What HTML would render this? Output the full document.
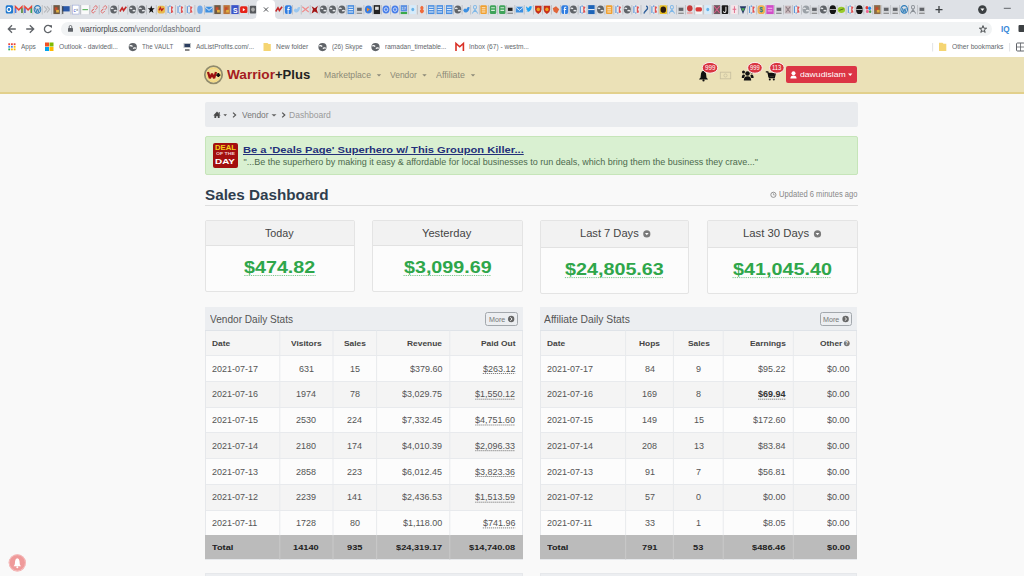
<!DOCTYPE html><html><head><meta charset="utf-8"><style>
html,body{margin:0;padding:0;width:1024px;height:576px;overflow:hidden;background:#f9f9f9;font-family:"Liberation Sans",sans-serif;}
.a{position:absolute;box-sizing:border-box;}
.t{position:absolute;white-space:nowrap;line-height:1;}
svg.a{overflow:visible}
</style></head><body>
<div class="a" style="left:0px;top:0px;width:1024px;height:19px;background:#dee1e6"></div>
<svg class="a" style="left:0;top:0" width="1024" height="19" viewBox="0 0 1024 19"><g transform="translate(9.40,9.6) scale(0.92,1.05) translate(-4,-4.25)"><rect x="0" y="0" width="8" height="8" rx="1.5" fill="#1e78d0"/><circle cx="3.5" cy="4.2" r="2" fill="none" stroke="#fff" stroke-width="1.2"/></g><rect x="13.67" y="5" width="0.8" height="9.5" fill="#b9bcc1"/><g transform="translate(18.75,9.6) scale(0.92,1.05) translate(-4,-4.25)"><path d="M0.5 7.5V1.5L4 4.5L7.5 1.5V7.5" fill="none" stroke="#ea4335" stroke-width="1.5"/><path d="M0.5 7.5V3" stroke="#4285f4" stroke-width="1.5"/><path d="M7.5 7.5V3" stroke="#34a853" stroke-width="1.5"/></g><rect x="23.03" y="5" width="0.8" height="9.5" fill="#b9bcc1"/><g transform="translate(28.10,9.6) scale(0.92,1.05) translate(-4,-4.25)"><path d="M0.5 7.5V1.5L4 4.5L7.5 1.5V7.5" fill="none" stroke="#ea4335" stroke-width="1.5"/><path d="M0.5 7.5V3" stroke="#4285f4" stroke-width="1.5"/><path d="M7.5 7.5V3" stroke="#34a853" stroke-width="1.5"/></g><rect x="32.40" y="5" width="0.8" height="9.5" fill="#b9bcc1"/><g transform="translate(37.50,9.6) scale(0.92,1.05) translate(-4,-4.25)"><circle cx="4" cy="4" r="3.6" fill="none" stroke="#2b7bb9" stroke-width="1.1"/><path d="M1.8 2.5L3 6.5L4 3.5L5 6.5L6.2 2.5" fill="none" stroke="#2b7bb9" stroke-width="0.9"/></g><rect x="41.80" y="5" width="0.8" height="9.5" fill="#b9bcc1"/><g transform="translate(46.90,9.6) scale(0.92,1.05) translate(-4,-4.25)"><path d="M1 1L4 4L1 7M4 1L7 4L4 7" fill="none" stroke="#b9bbbe" stroke-width="1.2"/></g><rect x="51.35" y="5" width="0.8" height="9.5" fill="#b9bcc1"/><g transform="translate(56.60,9.6) scale(0.92,1.05) translate(-4,-4.25)"><rect x="0.5" y="0" width="7" height="8.5" fill="#6d5a45"/><rect x="2" y="2" width="3" height="3" fill="#c84a2a"/><rect x="3.5" y="4.5" width="3" height="2.5" fill="#e0b040"/></g><rect x="60.90" y="5" width="0.8" height="9.5" fill="#b9bcc1"/><g transform="translate(66.00,9.6) scale(0.92,1.05) translate(-4,-4.25)"><rect x="0" y="1" width="8" height="5" fill="#2a58a8"/><rect x="0" y="1" width="1" height="7.5" fill="#333"/></g><rect x="70.50" y="5" width="0.8" height="9.5" fill="#b9bcc1"/><g transform="translate(75.80,9.6) scale(0.92,1.05) translate(-4,-4.25)"><rect x="0.5" y="0" width="7" height="8.5" fill="#fff" stroke="#9aa8d8" stroke-width="0.6"/><text x="1.5" y="6.5" font-size="5" fill="#3346c9" font-family="Liberation Sans">c</text><rect x="4.5" y="3.5" width="2" height="2" fill="#bbb"/></g><rect x="80.10" y="5" width="0.8" height="9.5" fill="#b9bcc1"/><g transform="translate(85.20,9.6) scale(0.92,1.05) translate(-4,-4.25)"><rect x="0" y="0" width="8" height="8.5" fill="#fafafa"/><rect x="1" y="3.8" width="6" height="1" fill="#4caf50"/></g><rect x="89.45" y="5" width="0.8" height="9.5" fill="#b9bcc1"/><g transform="translate(94.50,9.6) scale(0.92,1.05) translate(-4,-4.25)"><path d="M1.5 5.5L3.5 3.5M3 2.5l1.5-1.5a1.4 1.4 0 0 1 2 2L5 4.5M5 5.5L3.5 7a1.4 1.4 0 0 1-2-2L3 3.5" fill="none" stroke="#e06666" stroke-width="0.9"/></g><rect x="98.80" y="5" width="0.8" height="9.5" fill="#b9bcc1"/><g transform="translate(103.90,9.6) scale(0.92,1.05) translate(-4,-4.25)"><path d="M1.5 5.5L3.5 3.5M3 2.5l1.5-1.5a1.4 1.4 0 0 1 2 2L5 4.5M5 5.5L3.5 7a1.4 1.4 0 0 1-2-2L3 3.5" fill="none" stroke="#e06666" stroke-width="0.9"/></g><rect x="108.42" y="5" width="0.8" height="9.5" fill="#b9bcc1"/><g transform="translate(113.75,9.6) scale(0.92,1.05) translate(-4,-4.25)"><circle cx="4" cy="4.2" r="3.8" fill="#5f6368"/><path d="M1 3.3Q2.5 2.3 3.6 3.6M4.2 5.6Q5.6 4.6 7.2 5.6" fill="none" stroke="#e8eaed" stroke-width="1.2"/></g><rect x="118.02" y="5" width="0.8" height="9.5" fill="#b9bcc1"/><g transform="translate(123.10,9.6) scale(0.92,1.05) translate(-4,-4.25)"><path d="M0.5 6L3 2.5L4.5 5L7.5 1.5" fill="none" stroke="#c62828" stroke-width="1.7"/></g><rect x="127.40" y="5" width="0.8" height="9.5" fill="#b9bcc1"/><g transform="translate(132.50,9.6) scale(0.92,1.05) translate(-4,-4.25)"><circle cx="4" cy="4.2" r="3.8" fill="#5f6368"/><path d="M1 3.3Q2.5 2.3 3.6 3.6M4.2 5.6Q5.6 4.6 7.2 5.6" fill="none" stroke="#e8eaed" stroke-width="1.2"/></g><rect x="136.80" y="5" width="0.8" height="9.5" fill="#b9bcc1"/><g transform="translate(141.90,9.6) scale(0.92,1.05) translate(-4,-4.25)"><circle cx="4" cy="4.2" r="3.8" fill="#5f6368"/><path d="M1 3.3Q2.5 2.3 3.6 3.6M4.2 5.6Q5.6 4.6 7.2 5.6" fill="none" stroke="#e8eaed" stroke-width="1.2"/></g><rect x="146.17" y="5" width="0.8" height="9.5" fill="#b9bcc1"/><g transform="translate(151.25,9.6) scale(0.92,1.05) translate(-4,-4.25)"><path d="M4 0.3L5 3H7.8L5.5 4.7L6.4 7.6L4 5.9L1.6 7.6L2.5 4.7L0.2 3H3Z" fill="#111"/></g><rect x="155.85" y="5" width="0.8" height="9.5" fill="#b9bcc1"/><g transform="translate(161.25,9.6) scale(0.92,1.05) translate(-4,-4.25)"><rect x="0" y="0.5" width="8" height="7.5" rx="2" fill="#e9b84a"/><path d="M1.5 5L3 2.5L4.5 5L6.5 3" stroke="#b71c1c" stroke-width="1.4" fill="none"/></g><rect x="165.53" y="5" width="0.8" height="9.5" fill="#b9bcc1"/><g transform="translate(170.60,9.6) scale(0.92,1.05) translate(-4,-4.25)"><rect x="0.5" y="0" width="7" height="8.5" fill="#e6e8ec"/><path d="M1.3 1V7.5M2.5 1H4M2.5 7.5H4" stroke="#4f8fd8" stroke-width="1.1"/><path d="M5 1V7.5M6.5 1.5L5 4L6.5 7" stroke="#e05252" stroke-width="1.1" fill="none"/></g><rect x="175.15" y="5" width="0.8" height="9.5" fill="#b9bcc1"/><g transform="translate(180.50,9.6) scale(0.92,1.05) translate(-4,-4.25)"><rect x="0.5" y="0" width="7" height="8.5" fill="#e6e8ec"/><path d="M1.3 1V7.5M2.5 1H4M2.5 7.5H4" stroke="#4f8fd8" stroke-width="1.1"/><path d="M5 1V7.5M6.5 1.5L5 4L6.5 7" stroke="#e05252" stroke-width="1.1" fill="none"/></g><rect x="184.75" y="5" width="0.8" height="9.5" fill="#b9bcc1"/><g transform="translate(189.80,9.6) scale(0.92,1.05) translate(-4,-4.25)"><rect x="0.5" y="0" width="7" height="8.5" fill="#e6e8ec"/><path d="M1.3 1V7.5M2.5 1H4M2.5 7.5H4" stroke="#4f8fd8" stroke-width="1.1"/><path d="M5 1V7.5M6.5 1.5L5 4L6.5 7" stroke="#e05252" stroke-width="1.1" fill="none"/></g><rect x="194.50" y="5" width="0.8" height="9.5" fill="#b9bcc1"/><g transform="translate(200.00,9.6) scale(0.92,1.05) translate(-4,-4.25)"><ellipse cx="4" cy="4.3" rx="3" ry="4" fill="#6fa8e8"/></g><rect x="204.10" y="5" width="0.8" height="9.5" fill="#b9bcc1"/><g transform="translate(209.00,9.6) scale(0.92,1.05) translate(-4,-4.25)"><rect x="0" y="1.5" width="8" height="5.5" fill="#3d8fe0"/><path d="M0 2L4 5L8 2" stroke="#fff" stroke-width="0.8" fill="none"/></g><rect x="212.85" y="5" width="0.8" height="9.5" fill="#b9bcc1"/><g transform="translate(217.50,9.6) scale(0.92,1.05) translate(-4,-4.25)"><rect x="0.5" y="0" width="7" height="8.5" fill="#6d5a45"/><rect x="2" y="2" width="3" height="3" fill="#c84a2a"/><rect x="3.5" y="4.5" width="3" height="2.5" fill="#e0b040"/></g><rect x="221.65" y="5" width="0.8" height="9.5" fill="#b9bcc1"/><g transform="translate(226.60,9.6) scale(0.92,1.05) translate(-4,-4.25)"><rect x="0.5" y="0" width="7" height="8.5" fill="#b9733a"/><rect x="2" y="2" width="3" height="3" fill="#c84a2a"/><rect x="3.5" y="4.5" width="3" height="2.5" fill="#e0b040"/></g><rect x="230.40" y="5" width="0.8" height="9.5" fill="#b9bcc1"/><g transform="translate(235.00,9.6) scale(0.92,1.05) translate(-4,-4.25)"><rect x="0" y="0" width="8" height="8.5" fill="#3b55c8"/><text x="1.7" y="7" font-size="7.5" font-weight="bold" fill="#fff" font-family="Liberation Sans">S</text></g><rect x="238.97" y="5" width="0.8" height="9.5" fill="#b9bcc1"/><g transform="translate(243.75,9.6) scale(0.92,1.05) translate(-4,-4.25)"><rect x="0" y="1" width="8" height="6.5" rx="1.5" fill="#e62117"/><path d="M3 2.8V5.8L5.6 4.3Z" fill="#fff"/></g><rect x="247.97" y="5" width="0.8" height="9.5" fill="#b9bcc1"/><g transform="translate(253.00,9.6) scale(0.92,1.05) translate(-4,-4.25)"><rect x="0.5" y="0.5" width="7" height="7.5" rx="1" fill="#55585c"/><circle cx="4" cy="4.2" r="2" fill="#aaa"/></g><g transform="translate(278.90,9.6) scale(0.92,1.05) translate(-4,-4.25)"><path d="M0.5 6L3 2.5L4.5 5L7.5 1.5" fill="none" stroke="#c62828" stroke-width="1.7"/></g><rect x="283.20" y="5" width="0.8" height="9.5" fill="#b9bcc1"/><g transform="translate(288.30,9.6) scale(0.92,1.05) translate(-4,-4.25)"><rect x="0.3" y="0" width="7.4" height="8.5" rx="2" fill="#2f7de1"/><path d="M5.6 2H4.5Q3.8 2 3.8 2.8V8.5M2.8 4.2H5.5" stroke="#fff" stroke-width="1" fill="none"/></g><rect x="292.20" y="5" width="0.8" height="9.5" fill="#b9bcc1"/><g transform="translate(296.90,9.6) scale(0.92,1.05) translate(-4,-4.25)"><path d="M0.5 5Q2 2 4 4Q5 1 7.5 2Q7 6 4 7Q2 7.5 0.5 5Z" fill="#9cc8ef"/></g><rect x="300.80" y="5" width="0.8" height="9.5" fill="#b9bcc1"/><g transform="translate(305.50,9.6) scale(0.92,1.05) translate(-4,-4.25)"><path d="M0.5 1.5L7.5 6.5M0.5 6.5L7.5 1.5" stroke="#ef8a8a" stroke-width="1.2"/></g><rect x="309.75" y="5" width="0.8" height="9.5" fill="#b9bcc1"/><g transform="translate(314.80,9.6) scale(0.92,1.05) translate(-4,-4.25)"><path d="M0.5 1L4 3L7.5 0.5L6 4L7.5 8L4 6L0.5 8L2 4Z" fill="#a31515"/></g><rect x="318.70" y="5" width="0.8" height="9.5" fill="#b9bcc1"/><g transform="translate(323.40,9.6) scale(0.92,1.05) translate(-4,-4.25)"><circle cx="4" cy="4.2" r="3.8" fill="#5f6368"/><path d="M1 3.3Q2.5 2.3 3.6 3.6M4.2 5.6Q5.6 4.6 7.2 5.6" fill="none" stroke="#e8eaed" stroke-width="1.2"/></g><rect x="327.55" y="5" width="0.8" height="9.5" fill="#b9bcc1"/><g transform="translate(332.50,9.6) scale(0.92,1.05) translate(-4,-4.25)"><circle cx="4" cy="4.2" r="3.8" fill="#5f6368"/><path d="M1 3.3Q2.5 2.3 3.6 3.6M4.2 5.6Q5.6 4.6 7.2 5.6" fill="none" stroke="#e8eaed" stroke-width="1.2"/></g><rect x="336.80" y="5" width="0.8" height="9.5" fill="#b9bcc1"/><g transform="translate(341.90,9.6) scale(0.92,1.05) translate(-4,-4.25)"><circle cx="4" cy="4.2" r="3.8" fill="#5f6368"/><path d="M1 3.3Q2.5 2.3 3.6 3.6M4.2 5.6Q5.6 4.6 7.2 5.6" fill="none" stroke="#e8eaed" stroke-width="1.2"/></g><rect x="345.95" y="5" width="0.8" height="9.5" fill="#b9bcc1"/><g transform="translate(350.80,9.6) scale(0.92,1.05) translate(-4,-4.25)"><rect x="0.5" y="0" width="7" height="8.5" fill="#4a8ee0"/><path d="M1.5 2H6.5M1.5 4.2H6.5M1.5 6.5H6.5" stroke="#fff" stroke-width="0.9"/></g><rect x="354.70" y="5" width="0.8" height="9.5" fill="#b9bcc1"/><g transform="translate(359.40,9.6) scale(0.92,1.05) translate(-4,-4.25)"><rect x="0.5" y="1.5" width="7" height="5" fill="#d0d2d5"/><rect x="1.5" y="2.5" width="5" height="3" fill="#606368"/><rect x="1" y="7.2" width="6" height="1" fill="#777"/></g><rect x="363.50" y="5" width="0.8" height="9.5" fill="#b9bcc1"/><g transform="translate(368.40,9.6) scale(0.92,1.05) translate(-4,-4.25)"><circle cx="4" cy="4.2" r="3.8" fill="#3a7de0"/><path d="M2.5 2.5L5.5 4.2L2.5 6Z" fill="#f58a1f"/></g><rect x="372.25" y="5" width="0.8" height="9.5" fill="#b9bcc1"/><g transform="translate(376.90,9.6) scale(0.92,1.05) translate(-4,-4.25)"><rect x="0.5" y="0" width="7" height="8.5" fill="#222"/><rect x="2" y="1.5" width="4" height="3" fill="#ddd"/></g><rect x="381.05" y="5" width="0.8" height="9.5" fill="#b9bcc1"/><g transform="translate(386.00,9.6) scale(0.92,1.05) translate(-4,-4.25)"><circle cx="4" cy="4.2" r="3.8" fill="#4a7fe8"/><circle cx="4" cy="4.2" r="1.8" fill="none" stroke="#cfe0ff" stroke-width="0.9"/></g><rect x="390.10" y="5" width="0.8" height="9.5" fill="#b9bcc1"/><g transform="translate(395.00,9.6) scale(0.92,1.05) translate(-4,-4.25)"><circle cx="4" cy="4.2" r="3.8" fill="#4a7fe8"/><circle cx="4" cy="4.2" r="1.8" fill="none" stroke="#cfe0ff" stroke-width="0.9"/></g><rect x="399.05" y="5" width="0.8" height="9.5" fill="#b9bcc1"/><g transform="translate(403.90,9.6) scale(0.92,1.05) translate(-4,-4.25)"><rect x="0.5" y="0" width="7" height="6" fill="#5b8fe0"/><rect x="0.5" y="6.5" width="7" height="2" fill="#3aa94a"/><text x="1.5" y="5" font-size="4" fill="#fff" font-family="Liberation Sans">17</text></g><rect x="407.95" y="5" width="0.8" height="9.5" fill="#b9bcc1"/><g transform="translate(412.80,9.6) scale(0.92,1.05) translate(-4,-4.25)"><rect x="0.5" y="0" width="7" height="8.5" fill="#d6ebfa"/><circle cx="4" cy="4.2" r="1.6" fill="#6bb3e8"/></g><rect x="416.95" y="5" width="0.8" height="9.5" fill="#b9bcc1"/><g transform="translate(421.90,9.6) scale(0.92,1.05) translate(-4,-4.25)"><path d="M4 0.5Q7 2 5 4Q8 6 4 8Q0 6 3 4Q1 2 4 0.5Z" fill="#f06a3a"/></g><rect x="426.18" y="5" width="0.8" height="9.5" fill="#b9bcc1"/><g transform="translate(431.25,9.6) scale(0.92,1.05) translate(-4,-4.25)"><rect x="0.5" y="0" width="7" height="8.5" fill="#4a8ee0"/><path d="M1.5 2H6.5M1.5 4.2H6.5M1.5 6.5H6.5" stroke="#fff" stroke-width="0.9"/></g><rect x="435.12" y="5" width="0.8" height="9.5" fill="#b9bcc1"/><g transform="translate(439.80,9.6) scale(0.92,1.05) translate(-4,-4.25)"><rect x="0.5" y="0" width="7" height="8.5" fill="#4a8ee0"/><path d="M1.5 2H6.5M1.5 4.2H6.5M1.5 6.5H6.5" stroke="#fff" stroke-width="0.9"/></g><rect x="444.10" y="5" width="0.8" height="9.5" fill="#b9bcc1"/><g transform="translate(449.20,9.6) scale(0.92,1.05) translate(-4,-4.25)"><rect x="0.5" y="0" width="7" height="8.5" fill="#4a8ee0"/><path d="M1.5 2H6.5M1.5 4.2H6.5M1.5 6.5H6.5" stroke="#fff" stroke-width="0.9"/></g><rect x="453.10" y="5" width="0.8" height="9.5" fill="#b9bcc1"/><g transform="translate(457.80,9.6) scale(0.92,1.05) translate(-4,-4.25)"><circle cx="4" cy="4.2" r="3.8" fill="#5f6368"/><path d="M1 3.3Q2.5 2.3 3.6 3.6M4.2 5.6Q5.6 4.6 7.2 5.6" fill="none" stroke="#e8eaed" stroke-width="1.2"/></g><rect x="461.70" y="5" width="0.8" height="9.5" fill="#b9bcc1"/><g transform="translate(466.40,9.6) scale(0.92,1.05) translate(-4,-4.25)"><path d="M0.5 5Q2 2 4 4Q5 1 7.5 2Q7 6 4 7Q2 7.5 0.5 5Z" fill="#3d8fe0"/></g><rect x="470.30" y="5" width="0.8" height="9.5" fill="#b9bcc1"/><g transform="translate(475.00,9.6) scale(0.92,1.05) translate(-4,-4.25)"><circle cx="4" cy="2" r="1.7" fill="none" stroke="#7fb8e8" stroke-width="1"/><path d="M1 8L4 4L7 8M2 6H6" stroke="#7fb8e8" stroke-width="1" fill="none"/></g><rect x="478.90" y="5" width="0.8" height="9.5" fill="#b9bcc1"/><g transform="translate(483.60,9.6) scale(0.92,1.05) translate(-4,-4.25)"><rect x="0.5" y="0" width="7" height="8.5" rx="1" fill="#f0a030"/><path d="M2 2.5H6M2 4.5H6M2 6.5H6" stroke="#fff" stroke-width="0.8"/></g><rect x="487.90" y="5" width="0.8" height="9.5" fill="#b9bcc1"/><g transform="translate(493.00,9.6) scale(0.92,1.05) translate(-4,-4.25)"><rect x="0.5" y="0" width="7" height="8.5" rx="1.5" fill="#3fa35a"/><path d="M2 2.5H6M2 5H6" stroke="#d8f0dc" stroke-width="1"/></g><rect x="497.25" y="5" width="0.8" height="9.5" fill="#b9bcc1"/><g transform="translate(502.30,9.6) scale(0.92,1.05) translate(-4,-4.25)"><rect x="0.5" y="0" width="7" height="8.5" rx="1.5" fill="#3fa35a"/><path d="M2 2.5H6M2 5H6" stroke="#d8f0dc" stroke-width="1"/></g><rect x="505.85" y="5" width="0.8" height="9.5" fill="#b9bcc1"/><g transform="translate(510.20,9.6) scale(0.92,1.05) translate(-4,-4.25)"><rect x="0.5" y="1.5" width="7" height="5" fill="#d0d2d5"/><rect x="1.5" y="2.5" width="5" height="3" fill="#222"/><rect x="1" y="7.2" width="6" height="1" fill="#777"/></g><rect x="514.45" y="5" width="0.8" height="9.5" fill="#b9bcc1"/><g transform="translate(519.50,9.6) scale(0.92,1.05) translate(-4,-4.25)"><rect x="0" y="1.5" width="8" height="5.5" fill="#3d8fe0"/><path d="M0 2L4 5L8 2" stroke="#fff" stroke-width="0.8" fill="none"/></g><rect x="523.80" y="5" width="0.8" height="9.5" fill="#b9bcc1"/><g transform="translate(528.90,9.6) scale(0.92,1.05) translate(-4,-4.25)"><path d="M0.5 6Q3 7 5 5.5Q7 4 7 2L8 1Q6.5 1.5 6 1Q4.5 0.5 4 2.5Q2 2.5 1 1Q0.5 3 2 4Q1 4 1 4Q2 5.5 3 5.5Q2 6.5 0.5 6Z" fill="#1da1f2"/></g><rect x="533.20" y="5" width="0.8" height="9.5" fill="#b9bcc1"/><g transform="translate(538.30,9.6) scale(0.92,1.05) translate(-4,-4.25)"><path d="M0.5 0.5H7.5V4.5Q7.5 7 4 8.5Q0.5 7 0.5 4.5Z" fill="#c62f1a"/><circle cx="4" cy="4" r="1.8" fill="#f0a020"/></g><rect x="542.20" y="5" width="0.8" height="9.5" fill="#b9bcc1"/><g transform="translate(546.90,9.6) scale(0.92,1.05) translate(-4,-4.25)"><path d="M0.5 0.5H7.5V4.5Q7.5 7 4 8.5Q0.5 7 0.5 4.5Z" fill="#c62f1a"/><circle cx="4" cy="4" r="1.8" fill="#f0a020"/></g><rect x="551.05" y="5" width="0.8" height="9.5" fill="#b9bcc1"/><g transform="translate(556.00,9.6) scale(0.92,1.05) translate(-4,-4.25)"><path d="M0.5 3L4 1L7.5 4L5 8L1.5 6Z" fill="#e0653a"/></g><rect x="560.00" y="5" width="0.8" height="9.5" fill="#b9bcc1"/><g transform="translate(564.80,9.6) scale(0.92,1.05) translate(-4,-4.25)"><rect x="0.3" y="0" width="7.4" height="8.5" rx="2" fill="#2f7de1"/><path d="M5.6 2H4.5Q3.8 2 3.8 2.8V8.5M2.8 4.2H5.5" stroke="#fff" stroke-width="1" fill="none"/></g><rect x="568.70" y="5" width="0.8" height="9.5" fill="#b9bcc1"/><g transform="translate(573.40,9.6) scale(0.92,1.05) translate(-4,-4.25)"><circle cx="4" cy="4.2" r="3.8" fill="#5f6368"/><path d="M1 3.3Q2.5 2.3 3.6 3.6M4.2 5.6Q5.6 4.6 7.2 5.6" fill="none" stroke="#e8eaed" stroke-width="1.2"/></g><rect x="577.70" y="5" width="0.8" height="9.5" fill="#b9bcc1"/><g transform="translate(582.80,9.6) scale(0.92,1.05) translate(-4,-4.25)"><rect x="0.5" y="0" width="7" height="8.5" fill="#e6e8ec"/><path d="M1.3 1V7.5M2.5 1H4M2.5 7.5H4" stroke="#4f8fd8" stroke-width="1.1"/><path d="M5 1V7.5M6.5 1.5L5 4L6.5 7" stroke="#e05252" stroke-width="1.1" fill="none"/></g><rect x="586.70" y="5" width="0.8" height="9.5" fill="#b9bcc1"/><g transform="translate(591.40,9.6) scale(0.92,1.05) translate(-4,-4.25)"><rect x="0.5" y="0" width="7" height="8.5" fill="#1d64b8"/><rect x="0.5" y="3.8" width="7" height="0.9" fill="#fff"/></g><rect x="595.55" y="5" width="0.8" height="9.5" fill="#b9bcc1"/><g transform="translate(600.50,9.6) scale(0.92,1.05) translate(-4,-4.25)"><circle cx="4" cy="4.2" r="3.8" fill="#5f6368"/><path d="M1 3.3Q2.5 2.3 3.6 3.6M4.2 5.6Q5.6 4.6 7.2 5.6" fill="none" stroke="#e8eaed" stroke-width="1.2"/></g><rect x="604.45" y="5" width="0.8" height="9.5" fill="#b9bcc1"/><g transform="translate(609.20,9.6) scale(0.92,1.05) translate(-4,-4.25)"><rect x="0.5" y="0" width="7" height="8.5" rx="1" fill="#f0a030"/><path d="M2 2.5H6M2 4.5H6M2 6.5H6" stroke="#fff" stroke-width="0.8"/></g><rect x="613.40" y="5" width="0.8" height="9.5" fill="#b9bcc1"/><g transform="translate(618.40,9.6) scale(0.92,1.05) translate(-4,-4.25)"><rect x="0.5" y="0" width="7" height="8.5" fill="#e6e8ec"/><path d="M1.3 1V7.5M2.5 1H4M2.5 7.5H4" stroke="#4f8fd8" stroke-width="1.1"/><path d="M5 1V7.5M6.5 1.5L5 4L6.5 7" stroke="#e05252" stroke-width="1.1" fill="none"/></g><rect x="622.45" y="5" width="0.8" height="9.5" fill="#b9bcc1"/><g transform="translate(627.30,9.6) scale(0.92,1.05) translate(-4,-4.25)"><circle cx="4" cy="4.2" r="3.8" fill="#5f6368"/><path d="M1 3.3Q2.5 2.3 3.6 3.6M4.2 5.6Q5.6 4.6 7.2 5.6" fill="none" stroke="#e8eaed" stroke-width="1.2"/></g><rect x="631.45" y="5" width="0.8" height="9.5" fill="#b9bcc1"/><g transform="translate(636.40,9.6) scale(0.92,1.05) translate(-4,-4.25)"><rect x="0.5" y="0" width="7" height="8.5" fill="#e6e8ec"/><path d="M1.3 1V7.5M2.5 1H4M2.5 7.5H4" stroke="#4f8fd8" stroke-width="1.1"/><path d="M5 1V7.5M6.5 1.5L5 4L6.5 7" stroke="#e05252" stroke-width="1.1" fill="none"/></g><rect x="640.60" y="5" width="0.8" height="9.5" fill="#b9bcc1"/><g transform="translate(645.60,9.6) scale(0.92,1.05) translate(-4,-4.25)"><path d="M4.5 1Q6.5 1 6 3.5L3 6.5Q2.5 8 2 7" stroke="#2f5f9a" stroke-width="1.4" fill="none"/></g><rect x="649.60" y="5" width="0.8" height="9.5" fill="#b9bcc1"/><g transform="translate(654.40,9.6) scale(0.92,1.05) translate(-4,-4.25)"><rect x="0.5" y="0" width="7" height="8.5" fill="#e6e8ec"/><path d="M1.3 1V7.5M2.5 1H4M2.5 7.5H4" stroke="#4f8fd8" stroke-width="1.1"/><path d="M5 1V7.5M6.5 1.5L5 4L6.5 7" stroke="#e05252" stroke-width="1.1" fill="none"/></g><rect x="658.45" y="5" width="0.8" height="9.5" fill="#b9bcc1"/><g transform="translate(663.30,9.6) scale(0.92,1.05) translate(-4,-4.25)"><rect x="0" y="0" width="8" height="8.5" rx="1" fill="#e9c026"/><circle cx="4" cy="4.3" r="3" fill="#2a1a10"/></g><rect x="667.20" y="5" width="0.8" height="9.5" fill="#b9bcc1"/><g transform="translate(671.90,9.6) scale(0.92,1.05) translate(-4,-4.25)"><circle cx="4" cy="2" r="1.7" fill="none" stroke="#7fb8e8" stroke-width="1"/><path d="M1 8L4 4L7 8M2 6H6" stroke="#7fb8e8" stroke-width="1" fill="none"/></g><rect x="676.05" y="5" width="0.8" height="9.5" fill="#b9bcc1"/><g transform="translate(681.00,9.6) scale(0.92,1.05) translate(-4,-4.25)"><rect x="0.5" y="1.5" width="7" height="5" fill="#d0d2d5"/><rect x="1.5" y="2.5" width="5" height="3" fill="#606368"/><rect x="1" y="7.2" width="6" height="1" fill="#777"/></g><rect x="685.00" y="5" width="0.8" height="9.5" fill="#b9bcc1"/><g transform="translate(689.80,9.6) scale(0.92,1.05) translate(-4,-4.25)"><circle cx="4" cy="3" r="3" fill="#c73a3a"/><rect x="1" y="6.5" width="6" height="2" fill="#e8b0b0"/></g><rect x="693.88" y="5" width="0.8" height="9.5" fill="#b9bcc1"/><g transform="translate(698.75,9.6) scale(0.92,1.05) translate(-4,-4.25)"><rect x="0.5" y="0" width="7" height="8.5" fill="#f4f4f4"/><rect x="0.5" y="2" width="7" height="4" rx="1.5" fill="#d93a3a"/></g><rect x="702.88" y="5" width="0.8" height="9.5" fill="#b9bcc1"/><g transform="translate(707.80,9.6) scale(0.92,1.05) translate(-4,-4.25)"><rect x="0.5" y="0" width="7" height="8.5" fill="#d6ebfa"/><circle cx="4" cy="4.2" r="1.6" fill="#6bb3e8"/></g><rect x="711.95" y="5" width="0.8" height="9.5" fill="#b9bcc1"/><g transform="translate(716.90,9.6) scale(0.92,1.05) translate(-4,-4.25)"><rect x="0.5" y="0" width="7" height="8.5" fill="#6e5a60"/><path d="M1 1L7 7.5M7 1L1 7.5" stroke="#e05a8a" stroke-width="1"/></g><rect x="720.55" y="5" width="0.8" height="9.5" fill="#b9bcc1"/><g transform="translate(725.00,9.6) scale(0.92,1.05) translate(-4,-4.25)"><rect x="0.5" y="0" width="7" height="8.5" rx="1" fill="#1a1a1a"/><path d="M5 1.5V5.5Q5 7 3.5 7Q2.5 7 2.2 6" stroke="#fff" stroke-width="1" fill="none"/></g><rect x="729.30" y="5" width="0.8" height="9.5" fill="#b9bcc1"/><g transform="translate(734.40,9.6) scale(0.92,1.05) translate(-4,-4.25)"><rect x="0.5" y="0" width="7" height="8.5" fill="#f6e6ea"/><path d="M4 1V7.5M2 4H6" stroke="#e06a8a" stroke-width="1"/></g><rect x="738.30" y="5" width="0.8" height="9.5" fill="#b9bcc1"/><g transform="translate(743.00,9.6) scale(0.92,1.05) translate(-4,-4.25)"><path d="M0.5 1H7.5L4 8.5Z" fill="#283a6a"/><path d="M2 3H6L4 6Z" fill="#4caf50"/></g><rect x="747.15" y="5" width="0.8" height="9.5" fill="#b9bcc1"/><g transform="translate(752.10,9.6) scale(0.92,1.05) translate(-4,-4.25)"><rect x="0.5" y="0" width="7" height="8.5" fill="#e6e8ec"/><path d="M1.3 1V7.5M2.5 1H4M2.5 7.5H4" stroke="#4f8fd8" stroke-width="1.1"/><path d="M5 1V7.5M6.5 1.5L5 4L6.5 7" stroke="#e05252" stroke-width="1.1" fill="none"/></g><rect x="756.27" y="5" width="0.8" height="9.5" fill="#b9bcc1"/><g transform="translate(761.25,9.6) scale(0.92,1.05) translate(-4,-4.25)"><rect x="0" y="0" width="8" height="8.5" rx="3" fill="#f0b050"/><text x="1.8" y="7" font-size="7" font-weight="bold" fill="#1e7a9a" font-family="Liberation Sans">$</text></g><rect x="765.23" y="5" width="0.8" height="9.5" fill="#b9bcc1"/><g transform="translate(770.00,9.6) scale(0.92,1.05) translate(-4,-4.25)"><rect x="0" y="0" width="8" height="8.5" fill="#d04cc8"/><path d="M1.5 3H6.5M1.5 5.5H6.5" stroke="#f8c8f4" stroke-width="0.9"/></g><rect x="774.05" y="5" width="0.8" height="9.5" fill="#b9bcc1"/><g transform="translate(778.90,9.6) scale(0.92,1.05) translate(-4,-4.25)"><rect x="0.5" y="1.5" width="7" height="5" fill="#d0d2d5"/><rect x="1.5" y="2.5" width="5" height="3" fill="#606368"/><rect x="1" y="7.2" width="6" height="1" fill="#777"/></g><rect x="783.05" y="5" width="0.8" height="9.5" fill="#b9bcc1"/><g transform="translate(788.00,9.6) scale(0.92,1.05) translate(-4,-4.25)"><rect x="0.5" y="0.5" width="7" height="7.5" fill="#c8b8bc"/><path d="M1.5 1.5L6.5 7M6.5 1.5L1.5 7" stroke="#8a7a80" stroke-width="1"/></g><rect x="792.05" y="5" width="0.8" height="9.5" fill="#b9bcc1"/><g transform="translate(796.90,9.6) scale(0.92,1.05) translate(-4,-4.25)"><rect x="0.5" y="0" width="7" height="8.5" fill="#e6e8ec"/><path d="M1.3 1V7.5M2.5 1H4M2.5 7.5H4" stroke="#4f8fd8" stroke-width="1.1"/><path d="M5 1V7.5M6.5 1.5L5 4L6.5 7" stroke="#e05252" stroke-width="1.1" fill="none"/></g><rect x="801.05" y="5" width="0.8" height="9.5" fill="#b9bcc1"/><g transform="translate(806.00,9.6) scale(0.92,1.05) translate(-4,-4.25)"><circle cx="4" cy="4.2" r="3.8" fill="#9aa0a6"/><path d="M1 3.3Q2.5 2.3 3.6 3.6M4.2 5.6Q5.6 4.6 7.2 5.6" fill="none" stroke="#e8eaed" stroke-width="1.2"/></g><rect x="809.80" y="5" width="0.8" height="9.5" fill="#b9bcc1"/><g transform="translate(814.40,9.6) scale(0.92,1.05) translate(-4,-4.25)"><rect x="0.5" y="1.5" width="7" height="5" fill="#d0d2d5"/><rect x="1.5" y="2.5" width="5" height="3" fill="#606368"/><rect x="1" y="7.2" width="6" height="1" fill="#777"/></g><rect x="818.50" y="5" width="0.8" height="9.5" fill="#b9bcc1"/><g transform="translate(823.40,9.6) scale(0.92,1.05) translate(-4,-4.25)"><circle cx="4" cy="4.2" r="3.8" fill="#5f6368"/><path d="M1 3.3Q2.5 2.3 3.6 3.6M4.2 5.6Q5.6 4.6 7.2 5.6" fill="none" stroke="#e8eaed" stroke-width="1.2"/></g><rect x="827.70" y="5" width="0.8" height="9.5" fill="#b9bcc1"/><g transform="translate(832.80,9.6) scale(0.92,1.05) translate(-4,-4.25)"><ellipse cx="4" cy="4.3" rx="3.6" ry="4.2" fill="#151515"/><rect x="0.5" y="3.8" width="7" height="0.8" fill="#ccc"/></g><rect x="836.70" y="5" width="0.8" height="9.5" fill="#b9bcc1"/><g transform="translate(841.40,9.6) scale(0.92,1.05) translate(-4,-4.25)"><ellipse cx="4" cy="4.5" rx="4" ry="3" fill="#9acb2a"/><path d="M1.5 5L6.5 3.5" stroke="#3a5a10" stroke-width="0.8"/></g><rect x="845.70" y="5" width="0.8" height="9.5" fill="#b9bcc1"/><g transform="translate(850.80,9.6) scale(0.92,1.05) translate(-4,-4.25)"><rect x="0.5" y="0" width="7" height="8.5" fill="#e6e8ec"/><path d="M1.3 1V7.5M2.5 1H4M2.5 7.5H4" stroke="#4f8fd8" stroke-width="1.1"/><path d="M5 1V7.5M6.5 1.5L5 4L6.5 7" stroke="#e05252" stroke-width="1.1" fill="none"/></g><rect x="854.70" y="5" width="0.8" height="9.5" fill="#b9bcc1"/><g transform="translate(859.40,9.6) scale(0.92,1.05) translate(-4,-4.25)"><ellipse cx="4" cy="4.3" rx="3.6" ry="4.2" fill="#151515"/><rect x="0.5" y="3.8" width="7" height="0.8" fill="#ccc"/></g><rect x="863.45" y="5" width="0.8" height="9.5" fill="#b9bcc1"/><g transform="translate(868.30,9.6) scale(0.92,1.05) translate(-4,-4.25)"><circle cx="2.5" cy="2.5" r="1.6" fill="#e53935"/><circle cx="5.5" cy="3" r="1.6" fill="#1e88e5"/><circle cx="3" cy="6" r="1.6" fill="#f06292"/><circle cx="6" cy="6.2" r="1.3" fill="#43a047"/></g><rect x="872.40" y="5" width="0.8" height="9.5" fill="#b9bcc1"/><g transform="translate(877.30,9.6) scale(0.92,1.05) translate(-4,-4.25)"><rect x="0.5" y="0" width="7" height="8.5" fill="#8a6b4a"/><rect x="2" y="2" width="3" height="3" fill="#c84a2a"/><rect x="3.5" y="4.5" width="3" height="2.5" fill="#e0b040"/></g><rect x="881.35" y="5" width="0.8" height="9.5" fill="#b9bcc1"/><g transform="translate(886.20,9.6) scale(0.92,1.05) translate(-4,-4.25)"><rect x="0.5" y="1.5" width="7" height="5" fill="#d0d2d5"/><rect x="1.5" y="2.5" width="5" height="3" fill="#606368"/><rect x="1" y="7.2" width="6" height="1" fill="#777"/></g><rect x="890.30" y="5" width="0.8" height="9.5" fill="#b9bcc1"/><g transform="translate(895.20,9.6) scale(0.92,1.05) translate(-4,-4.25)"><rect x="0.5" y="1.5" width="7" height="5" fill="#d0d2d5"/><rect x="1.5" y="2.5" width="5" height="3" fill="#606368"/><rect x="1" y="7.2" width="6" height="1" fill="#777"/></g><rect x="899.30" y="5" width="0.8" height="9.5" fill="#b9bcc1"/><g transform="translate(904.20,9.6) scale(0.92,1.05) translate(-4,-4.25)"><circle cx="4" cy="4" r="3.6" fill="none" stroke="#2b7bb9" stroke-width="1.1"/><path d="M1.8 2.5L3 6.5L4 3.5L5 6.5L6.2 2.5" fill="none" stroke="#2b7bb9" stroke-width="0.9"/></g><rect x="908.20" y="5" width="0.8" height="9.5" fill="#b9bcc1"/><g transform="translate(913.00,9.6) scale(0.92,1.05) translate(-4,-4.25)"><circle cx="4" cy="2" r="1.7" fill="none" stroke="#8a8f96" stroke-width="1"/><path d="M1 8L4 4L7 8M2 6H6" stroke="#8a8f96" stroke-width="1" fill="none"/></g><rect x="917.05" y="5" width="0.8" height="9.5" fill="#b9bcc1"/><g transform="translate(921.90,9.6) scale(0.92,1.05) translate(-4,-4.25)"><rect x="0.5" y="1.5" width="7" height="5" fill="#d0d2d5"/><rect x="1.5" y="2.5" width="5" height="3" fill="#606368"/><rect x="1" y="7.2" width="6" height="1" fill="#777"/></g><path d="M252.5 19Q256.5 19 256.5 15V4Q256.5 0 260.5 0H271Q275 0 275 4V15Q275 19 279 19Z" fill="#ffffff"/><path d="M263.9 7.4L268.1 11.6M268.1 7.4L263.9 11.6" stroke="#45484c" stroke-width="0.95"/><path d="M935.5 9.6H942.5M939 6.1V13.1" stroke="#3c4043" stroke-width="1.3"/><circle cx="982.4" cy="9.6" r="4.3" fill="#3c4043"/><path d="M980.4 8.6H984.4L982.4 11Z" fill="#fff"/><path d="M1003.8 8.3H1010.8" stroke="#5f6368" stroke-width="1"/></svg>
<div class="a" style="left:0px;top:19px;width:1024px;height:19px;background:#ffffff"></div>
<div class="a" style="left:61px;top:22px;width:931px;height:14px;background:#f1f3f4;border-radius:7px"></div>
<svg class="a" style="left:0;top:0" width="1024" height="40" viewBox="0 0 1024 40"><path d="M8.5 29H15.8M12 25.2L8.3 29L12 32.8" fill="none" stroke="#5f6368" stroke-width="1.3"/><path d="M26.2 29H33.5M29.8 25.2L33.7 29L29.8 32.8" fill="none" stroke="#5f6368" stroke-width="1.3"/><path d="M51 27A3.6 3.6 0 1 0 51.3 30.5" fill="none" stroke="#5f6368" stroke-width="1.3"/><path d="M49 25.3H52V28.3Z" fill="#5f6368"/><rect x="68" y="28" width="5" height="3.8" rx="0.5" fill="#5f6368"/><path d="M69.2 28V26.8A1.3 1.3 0 0 1 71.8 26.8V28" fill="none" stroke="#5f6368" stroke-width="0.9"/><path d="M983 25.6L983.9 28.2H986.6L984.4 29.8L985.2 32.4L983 30.8L980.8 32.4L981.6 29.8L979.4 28.2H982.1Z" fill="none" stroke="#3c4043" stroke-width="0.9"/><rect x="1018.5" y="25" width="6" height="7" rx="1" fill="#3c4043"/></svg>
<div class="t" style="left:1001.00px;top:25.22px;font-size:8.72px;font-weight:bold;color:#3b8ad9;transform:scaleX(0.9347);transform-origin:0 0;">IQ</div>
<div class="t" style="left:79.52px;top:25.79px;font-size:8.28px;color:#45484c;transform:scaleX(0.9318);transform-origin:0 0;">warriorplus.com</div>
<div class="t" style="left:134.30px;top:25.79px;font-size:8.28px;color:#6d7175;transform:scaleX(0.9624);transform-origin:0 0;">/vendor/dashboard</div>
<div class="a" style="left:0px;top:38px;width:1024px;height:19px;background:#ffffff"></div>
<svg class="a" style="left:0;top:0" width="1024" height="57" viewBox="0 0 1024 57"><rect x="8.30" y="43.30" width="1.8" height="1.8" fill="#ea4335"/><rect x="11.00" y="43.30" width="1.8" height="1.8" fill="#ea4335"/><rect x="13.70" y="43.30" width="1.8" height="1.8" fill="#ea4335"/><rect x="8.30" y="45.90" width="1.8" height="1.8" fill="#4285f4"/><rect x="11.00" y="45.90" width="1.8" height="1.8" fill="#4285f4"/><rect x="13.70" y="45.90" width="1.8" height="1.8" fill="#fbbc05"/><rect x="8.30" y="48.50" width="1.8" height="1.8" fill="#34a853"/><rect x="11.00" y="48.50" width="1.8" height="1.8" fill="#fbbc05"/><rect x="13.70" y="48.50" width="1.8" height="1.8" fill="#fbbc05"/><rect x="45" y="42.5" width="4" height="4" fill="#f25022"/><rect x="49.5" y="42.5" width="4" height="4" fill="#7fba00"/><rect x="45" y="47" width="4" height="4" fill="#00a4ef"/><rect x="49.5" y="47" width="4" height="4" fill="#ffb900"/><circle cx="132.8" cy="47.1" r="4.1" fill="#5f6368"/><path d="M129.5 46.1Q131.0 44.9 132.5 46.5M133.10000000000002 48.5Q134.60000000000002 47.4 136.20000000000002 48.300000000000004" fill="none" stroke="#fff" stroke-width="1.2"/><rect x="183.5" y="43" width="7.5" height="5" fill="#c0c4c8"/><rect x="184.5" y="44" width="5.5" height="3" fill="#2c3e60"/><rect x="185" y="49" width="4.5" height="2" fill="#888"/><path d="M263.5 43H267.5L268.5 44H270.8V51H263.5Z" fill="#f5d572"/><circle cx="322.5" cy="47.1" r="4.1" fill="#5f6368"/><path d="M319.2 46.1Q320.7 44.9 322.2 46.5M322.8 48.5Q324.3 47.4 325.9 48.300000000000004" fill="none" stroke="#fff" stroke-width="1.2"/><circle cx="375.5" cy="47.1" r="4.1" fill="#5f6368"/><path d="M372.2 46.1Q373.7 44.9 375.2 46.5M375.8 48.5Q377.3 47.4 378.9 48.300000000000004" fill="none" stroke="#fff" stroke-width="1.2"/><path d="M456 51V43.5L459.7 46.8L463.4 43.5V51" fill="none" stroke="#d93025" stroke-width="1.6"/><rect x="932.3" y="43" width="0.8" height="8.5" fill="#dadce0"/><path d="M939 42.7H942.5L943.5 43.7H946.3V51H939Z" fill="#f5d572"/><rect x="1009.3" y="43" width="0.8" height="8.5" fill="#dadce0"/><rect x="1016.5" y="43" width="8" height="8" rx="1" fill="none" stroke="#5f6368" stroke-width="1"/><path d="M1020.5 43V51M1016.5 47H1024" stroke="#5f6368" stroke-width="0.8"/></svg>
<div class="t" style="left:21.20px;top:43.13px;font-size:7.41px;color:#63676c;transform:scaleX(0.8757);transform-origin:0 0;">Apps</div>
<div class="t" style="left:59.00px;top:43.13px;font-size:7.41px;color:#63676c;transform:scaleX(0.8948);transform-origin:0 0;">Outlook - davidedl...</div>
<div class="t" style="left:141.90px;top:43.13px;font-size:7.41px;color:#63676c;transform:scaleX(0.8293);transform-origin:0 0;">The VAULT</div>
<div class="t" style="left:196.25px;top:43.13px;font-size:7.41px;color:#63676c;transform:scaleX(0.8822);transform-origin:0 0;">AdListProfits.com/...</div>
<div class="t" style="left:276.20px;top:43.13px;font-size:7.41px;color:#63676c;transform:scaleX(0.9116);transform-origin:0 0;">New folder</div>
<div class="t" style="left:331.50px;top:43.13px;font-size:7.41px;color:#63676c;transform:scaleX(0.8510);transform-origin:0 0;">(26) Skype</div>
<div class="t" style="left:384.50px;top:43.13px;font-size:7.41px;color:#63676c;transform:scaleX(0.8831);transform-origin:0 0;">ramadan_timetable...</div>
<div class="t" style="left:469.00px;top:43.13px;font-size:7.41px;color:#63676c;transform:scaleX(0.8880);transform-origin:0 0;">Inbox (67) - westm...</div>
<div class="t" style="left:952.00px;top:43.13px;font-size:7.41px;color:#63676c;transform:scaleX(0.9058);transform-origin:0 0;">Other bookmarks</div>
<div class="a" style="left:0px;top:56.5px;width:1024px;height:37px;background:#ebe1b7;border-bottom:2.5px solid #e2d08c"></div>
<svg class="a" style="left:0;top:0" width="1024" height="100" viewBox="0 0 1024 100"><circle cx="213.5" cy="74.8" r="8.7" fill="#f1df9a" stroke="#8f8a6c" stroke-width="1.7"/><circle cx="213.5" cy="74.8" r="6.6" fill="none" stroke="#f6d77a" stroke-width="1"/><path d="M208 72L209.9 78.2L212 73.8L214.1 78.2L216 72" fill="none" stroke="#9c1212" stroke-width="2.3" stroke-linejoin="bevel"/><path d="M216.3 75.1H220.3M218.3 73.1V77.1" stroke="#111" stroke-width="1.9"/></svg>
<div class="t" style="left:226.60px;top:69.20px;font-size:12.65px;font-weight:bold;color:#a51c22;transform:scaleX(1.0784);transform-origin:0 0;">Warrior</div>
<div class="t" style="left:275.20px;top:69.20px;font-size:12.65px;font-weight:bold;color:#222222;transform:scaleX(1.0329);transform-origin:0 0;">+Plus</div>
<div class="t" style="left:324.00px;top:70.57px;font-size:9.01px;color:#8c8a78;transform:scaleX(0.9574);transform-origin:0 0;">Marketplace</div>
<div class="t" style="left:389.70px;top:70.57px;font-size:9.01px;color:#8c8a78;transform:scaleX(0.9417);transform-origin:0 0;">Vendor</div>
<div class="t" style="left:436.00px;top:70.57px;font-size:9.01px;color:#8c8a78;transform:scaleX(0.9864);transform-origin:0 0;">Affiliate</div>
<svg class="a" style="left:0;top:0" width="1024" height="100" viewBox="0 0 1024 100"><path d="M376.8 74.2H381.2L379 76.6Z" fill="#8c8a78"/><path d="M422.3 74.2H426.7L424.5 76.6Z" fill="#8c8a78"/><path d="M470.8 74.2H475.2L473 76.6Z" fill="#8c8a78"/><path d="M699 79.5Q699.5 78.5 700.5 77.8L701 73.5Q701.5 70.8 703.5 70.8Q705.5 70.8 706 73.5L706.5 77.8Q707.5 78.5 708 79.5Z" fill="#111"/><circle cx="703.5" cy="80.4" r="1.1" fill="#111"/><rect x="720.3" y="72.2" width="10.4" height="6.6" fill="none" stroke="#c9c0a0" stroke-width="0.9"/><circle cx="725.5" cy="75.5" r="1.6" fill="none" stroke="#c9c0a0" stroke-width="0.8"/><circle cx="747.5" cy="73.5" r="2.3" fill="#111"/><path d="M743.8 80.6Q743.8 76.3 747.5 76.3Q751.2 76.3 751.2 80.6Z" fill="#111"/><circle cx="743.5" cy="72" r="1.5" fill="#111"/><circle cx="751.8" cy="72" r="1.5" fill="#111"/><path d="M741.8 78Q741.8 74.5 743.5 74.5Q744.6 74.5 745 75.5L744 78Z" fill="#111"/><path d="M753.6 78Q753.6 74.5 751.8 74.5Q750.7 74.5 750.3 75.5L751.3 78Z" fill="#111"/><path d="M765.8 71.8H767.8L769.3 77.5H774.3L775.3 73.3H768.5" fill="none" stroke="#111" stroke-width="1.3"/><rect x="768.4" y="73.6" width="6.4" height="3.2" fill="#111"/><circle cx="769.8" cy="79.6" r="1" fill="#111"/><circle cx="773.8" cy="79.6" r="1" fill="#111"/><ellipse cx="710.00" cy="67.8" rx="7.80" ry="5.4" fill="#d9343f" stroke="#fbeff0" stroke-width="1"/><ellipse cx="754.95" cy="67.8" rx="7.35" ry="5.4" fill="#d9343f" stroke="#fbeff0" stroke-width="1"/><ellipse cx="776.90" cy="67.8" rx="7.30" ry="5.4" fill="#d9343f" stroke="#fbeff0" stroke-width="1"/></svg>
<div class="t" style="left:704.80px;top:64.87px;font-size:7.12px;color:#ffffff;transform:scaleX(0.8841);transform-origin:0 0;">999</div>
<div class="t" style="left:750.20px;top:64.87px;font-size:7.12px;color:#ffffff;transform:scaleX(0.8083);transform-origin:0 0;">999</div>
<div class="t" style="left:772.40px;top:64.87px;font-size:7.12px;color:#ffffff;transform:scaleX(0.8099);transform-origin:0 0;">113</div>
<div class="a" style="left:786.2px;top:66px;width:71.3px;height:17px;background:#dc3545;border-radius:2px"></div>
<svg class="a" style="left:0;top:0" width="1024" height="100" viewBox="0 0 1024 100"><circle cx="793.5" cy="73.2" r="2" fill="#fff"/><path d="M790.4 78.6Q790.4 75.5 793.5 75.5Q796.6 75.5 796.6 78.6Z" fill="#fff"/><path d="M848 73.6H852.4L850.2 76Z" fill="#fff"/></svg>
<div class="t" style="left:799.80px;top:71.16px;font-size:7.85px;color:#ffffff;transform:scaleX(1.1027);transform-origin:0 0;">dawudislam</div>
<div class="a" style="left:205px;top:102.3px;width:652.5px;height:24.3px;background:#e9ebee;border-radius:2px"></div>
<svg class="a" style="left:0;top:0" width="1024" height="140" viewBox="0 0 1024 140"><path d="M213.3 115.4L217 111.6L220.7 115.4H219.6V118H217.8V116.3H216.2V118H214.4V115.4Z" fill="#4a4a4a"/><rect x="218.7" y="112" width="1" height="2" fill="#4a4a4a"/><path d="M223.4 114.2H227L225.2 116.2Z" fill="#555"/><path d="M233 112.6L235.6 115L233 117.4" fill="none" stroke="#555" stroke-width="1.2"/><path d="M271.5 114.2H276.5L274 116.4Z" fill="#666"/><path d="M282.2 112.6L284.8 115L282.2 117.4" fill="none" stroke="#555" stroke-width="1.2"/></svg>
<div class="t" style="left:241.60px;top:110.97px;font-size:9.01px;color:#777777;transform:scaleX(0.9311);transform-origin:0 0;">Vendor</div>
<div class="t" style="left:289.40px;top:110.97px;font-size:9.01px;color:#9a9a9a;transform:scaleX(0.9481);transform-origin:0 0;">Dashboard</div>
<div class="a" style="left:204.9px;top:136px;width:652.8px;height:39px;background:#d9f0d1;border:1px solid #c6e5b9;border-radius:2px"></div>
<div class="a" style="left:212.7px;top:143.2px;width:25.2px;height:25.1px;background:#a30f0f;border-radius:2px"></div>
<div class="t" style="left:214.80px;top:145.14px;font-size:6.69px;font-weight:bold;color:#f2d21a;transform:scaleX(1.1537);transform-origin:0 0;">DEAL</div>
<div class="t" style="left:215.80px;top:153.05px;font-size:3.49px;font-weight:bold;color:#f0d0d0;transform:scaleX(1.4851);transform-origin:0 0;">OF THE</div>
<div class="t" style="left:215.30px;top:158.00px;font-size:7.56px;font-weight:bold;color:#ffffff;transform:scaleX(1.3100);transform-origin:0 0;">DAY</div>
<div class="t" style="left:243.30px;top:145.43px;font-size:9.88px;font-weight:bold;color:#24307a;transform:scaleX(1.1280);transform-origin:0 0;text-decoration:underline;text-decoration-thickness:1px;text-underline-offset:1px;">Be a 'Deals Page' Superhero w/ This Groupon Killer...</div>
<div class="t" style="left:243.50px;top:158.37px;font-size:9.01px;color:#4d6a4d;">"...Be the superhero by making it easy &amp; affordable for local businesses to run deals, which bring them the business they crave..."</div>
<div class="t" style="left:204.80px;top:187.64px;font-size:14.24px;font-weight:bold;color:#2f3e4e;transform:scaleX(1.0701);transform-origin:0 0;">Sales Dashboard</div>
<svg class="a" style="left:0;top:0" width="1024" height="210" viewBox="0 0 1024 210"><circle cx="773.4" cy="194.8" r="2.6" fill="none" stroke="#888" stroke-width="0.9"/><path d="M773.4 193.2V194.9H774.8" fill="none" stroke="#888" stroke-width="0.7"/></svg>
<div class="t" style="left:778.70px;top:191.31px;font-size:8.14px;color:#888888;transform:scaleX(0.9339);transform-origin:0 0;">Updated 6 minutes ago</div>
<div class="a" style="left:204.8px;top:205px;width:652.8px;height:1px;background:#dedede"></div>
<div class="a" style="left:205.1px;top:220.1px;width:150.4px;height:71.8px;background:#fcfcfc;border:1px solid #e4e4e4;border-radius:2px"></div>
<div class="a" style="left:206.1px;top:221.1px;width:148.4px;height:24.8px;background:#f2f2f2;border-bottom:1px solid #e2e2e2"></div>
<div class="t" style="left:265.40px;top:228.02px;font-size:10.61px;color:#444444;transform:scaleX(1.0105);transform-origin:0 0;">Today</div>
<div class="t" style="left:244.30px;top:259.69px;font-size:15.84px;font-weight:bold;color:#2ea64a;transform:scaleX(1.2449);transform-origin:0 0;">$474.82</div>
<div class="a" style="left:371.9px;top:220.1px;width:150.80000000000007px;height:71.8px;background:#fcfcfc;border:1px solid #e4e4e4;border-radius:2px"></div>
<div class="a" style="left:372.9px;top:221.1px;width:148.80000000000007px;height:24.8px;background:#f2f2f2;border-bottom:1px solid #e2e2e2"></div>
<div class="t" style="left:422.40px;top:228.02px;font-size:10.61px;color:#444444;transform:scaleX(1.0515);transform-origin:0 0;">Yesterday</div>
<div class="t" style="left:403.50px;top:259.69px;font-size:15.84px;font-weight:bold;color:#2ea64a;transform:scaleX(1.2439);transform-origin:0 0;">$3,099.69</div>
<div class="a" style="left:539.8px;top:220.1px;width:149.60000000000002px;height:73.8px;background:#fcfcfc;border:1px solid #e4e4e4;border-radius:2px"></div>
<div class="a" style="left:540.8px;top:221.1px;width:147.60000000000002px;height:26.7px;background:#f2f2f2;border-bottom:1px solid #e2e2e2"></div>
<div class="t" style="left:579.80px;top:228.02px;font-size:10.61px;color:#444444;transform:scaleX(1.0478);transform-origin:0 0;">Last 7 Days</div>
<div class="t" style="left:564.90px;top:261.59px;font-size:15.84px;font-weight:bold;color:#2ea64a;transform:scaleX(1.2473);transform-origin:0 0;">$24,805.63</div>
<div class="a" style="left:707.3px;top:220.1px;width:150.30000000000007px;height:73.8px;background:#fcfcfc;border:1px solid #e4e4e4;border-radius:2px"></div>
<div class="a" style="left:708.3px;top:221.1px;width:148.30000000000007px;height:26.7px;background:#f2f2f2;border-bottom:1px solid #e2e2e2"></div>
<div class="t" style="left:743.10px;top:228.02px;font-size:10.61px;color:#444444;transform:scaleX(1.0672);transform-origin:0 0;">Last 30 Days</div>
<div class="t" style="left:732.50px;top:261.59px;font-size:15.84px;font-weight:bold;color:#2ea64a;transform:scaleX(1.2485);transform-origin:0 0;">$41,045.40</div>
<svg class="a" style="left:0;top:0" width="1024" height="300" viewBox="0 0 1024 300"><line x1="244.3" y1="275.5" x2="315.6" y2="275.5" stroke="#6cc07e" stroke-width="0.9" stroke-dasharray="1.2 1"/><line x1="403.5" y1="275.5" x2="491.2" y2="275.5" stroke="#6cc07e" stroke-width="0.9" stroke-dasharray="1.2 1"/><line x1="564.9" y1="277.6" x2="663.8" y2="277.6" stroke="#6cc07e" stroke-width="0.9" stroke-dasharray="1.2 1"/><circle cx="646.8" cy="233.9" r="3.6" fill="#7a7a7a"/><path d="M645.0 233H648.6L646.8 235.2Z" fill="#fff"/><line x1="732.5" y1="277.6" x2="831.5" y2="277.6" stroke="#6cc07e" stroke-width="0.9" stroke-dasharray="1.2 1"/><circle cx="817.5" cy="233.9" r="3.6" fill="#7a7a7a"/><path d="M815.7 233H819.3L817.5 235.2Z" fill="#fff"/></svg>
<div class="a" style="left:205px;top:307px;width:317.6px;height:252.5px;background:#fafafa;border:1px solid #e6e8eb"></div>
<div class="a" style="left:205px;top:307px;width:317.6px;height:23.5px;background:#eceef1;border-bottom:1px solid #dfe3e8"></div>
<div class="t" style="left:209.80px;top:314.91px;font-size:10.03px;color:#555555;transform:scaleX(1.0083);transform-origin:0 0;">Vendor Daily Stats</div>
<div class="a" style="left:485.1px;top:311.7px;width:32.8px;height:14.6px;background:transparent;border:1px solid #a3a8ad;border-radius:2.5px"></div>
<div class="t" style="left:488.80px;top:316.45px;font-size:7.27px;color:#777777;transform:scaleX(0.9848);transform-origin:0 0;">More</div>
<div class="a" style="left:206px;top:355.3px;width:315.6px;height:25.69999999999999px;background:#fcfcfc;border-top:1px solid #e8eaed"></div>
<div class="a" style="left:206px;top:381.0px;width:315.6px;height:25.5px;background:#f4f4f4;border-top:1px solid #e8eaed"></div>
<div class="a" style="left:206px;top:406.5px;width:315.6px;height:25.69999999999999px;background:#fcfcfc;border-top:1px solid #e8eaed"></div>
<div class="a" style="left:206px;top:432.2px;width:315.6px;height:26.0px;background:#f4f4f4;border-top:1px solid #e8eaed"></div>
<div class="a" style="left:206px;top:458.2px;width:315.6px;height:26.0px;background:#fcfcfc;border-top:1px solid #e8eaed"></div>
<div class="a" style="left:206px;top:484.2px;width:315.6px;height:25.5px;background:#f4f4f4;border-top:1px solid #e8eaed"></div>
<div class="a" style="left:206px;top:509.7px;width:315.6px;height:25.69999999999999px;background:#fcfcfc;border-top:1px solid #e8eaed"></div>
<div class="a" style="left:206px;top:330.5px;width:315.6px;height:24.8px;background:#f5f5f5"></div>
<div class="a" style="left:205px;top:535.4px;width:317.6px;height:24.100000000000023px;background:#bbbbbb"></div>
<div class="t" style="left:212.20px;top:340.35px;font-size:7.27px;font-weight:bold;color:#444444;transform:scaleX(1.1536);transform-origin:0 0;">Date</div>
<div class="t" style="left:290.90px;top:340.35px;font-size:7.27px;font-weight:bold;color:#444444;transform:scaleX(1.1536);transform-origin:0 0;">Visitors</div>
<div class="t" style="left:343.85px;top:340.35px;font-size:7.27px;font-weight:bold;color:#444444;transform:scaleX(1.1536);transform-origin:0 0;">Sales</div>
<div class="t" style="left:407.36px;top:340.35px;font-size:7.27px;font-weight:bold;color:#444444;transform:scaleX(1.1536);transform-origin:0 0;">Revenue</div>
<div class="t" style="left:480.72px;top:340.35px;font-size:7.27px;font-weight:bold;color:#444444;transform:scaleX(1.1536);transform-origin:0 0;">Paid Out</div>
<div class="t" style="left:212.20px;top:364.65px;font-size:9.16px;color:#555555;transform:scaleX(0.9800);transform-origin:0 0;">2021-07-17</div>
<div class="t" style="left:298.52px;top:364.65px;font-size:9.16px;color:#555555;transform:scaleX(0.9800);transform-origin:0 0;">631</div>
<div class="t" style="left:349.81px;top:364.65px;font-size:9.16px;color:#555555;transform:scaleX(0.9800);transform-origin:0 0;">15</div>
<div class="t" style="left:409.86px;top:364.65px;font-size:9.16px;color:#555555;transform:scaleX(0.9800);transform-origin:0 0;">$379.60</div>
<div class="t" style="left:482.76px;top:364.65px;font-size:9.16px;color:#555555;transform:scaleX(0.9800);transform-origin:0 0;">$263.12</div>
<div class="t" style="left:212.20px;top:390.39px;font-size:9.16px;color:#555555;transform:scaleX(0.9800);transform-origin:0 0;">2021-07-16</div>
<div class="t" style="left:296.02px;top:390.39px;font-size:9.16px;color:#555555;transform:scaleX(0.9800);transform-origin:0 0;">1974</div>
<div class="t" style="left:349.81px;top:390.39px;font-size:9.16px;color:#555555;transform:scaleX(0.9800);transform-origin:0 0;">78</div>
<div class="t" style="left:402.37px;top:390.39px;font-size:9.16px;color:#555555;transform:scaleX(0.9800);transform-origin:0 0;">$3,029.75</div>
<div class="t" style="left:475.27px;top:390.39px;font-size:9.16px;color:#555555;transform:scaleX(0.9800);transform-origin:0 0;">$1,550.12</div>
<div class="t" style="left:212.20px;top:416.13px;font-size:9.16px;color:#555555;transform:scaleX(0.9800);transform-origin:0 0;">2021-07-15</div>
<div class="t" style="left:296.02px;top:416.13px;font-size:9.16px;color:#555555;transform:scaleX(0.9800);transform-origin:0 0;">2530</div>
<div class="t" style="left:347.32px;top:416.13px;font-size:9.16px;color:#555555;transform:scaleX(0.9800);transform-origin:0 0;">224</div>
<div class="t" style="left:402.37px;top:416.13px;font-size:9.16px;color:#555555;transform:scaleX(0.9800);transform-origin:0 0;">$7,332.45</div>
<div class="t" style="left:475.27px;top:416.13px;font-size:9.16px;color:#555555;transform:scaleX(0.9800);transform-origin:0 0;">$4,751.60</div>
<div class="t" style="left:212.20px;top:441.87px;font-size:9.16px;color:#555555;transform:scaleX(0.9800);transform-origin:0 0;">2021-07-14</div>
<div class="t" style="left:296.02px;top:441.87px;font-size:9.16px;color:#555555;transform:scaleX(0.9800);transform-origin:0 0;">2180</div>
<div class="t" style="left:347.32px;top:441.87px;font-size:9.16px;color:#555555;transform:scaleX(0.9800);transform-origin:0 0;">174</div>
<div class="t" style="left:402.37px;top:441.87px;font-size:9.16px;color:#555555;transform:scaleX(0.9800);transform-origin:0 0;">$4,010.39</div>
<div class="t" style="left:475.27px;top:441.87px;font-size:9.16px;color:#555555;transform:scaleX(0.9800);transform-origin:0 0;">$2,096.33</div>
<div class="t" style="left:212.20px;top:467.61px;font-size:9.16px;color:#555555;transform:scaleX(0.9800);transform-origin:0 0;">2021-07-13</div>
<div class="t" style="left:296.02px;top:467.61px;font-size:9.16px;color:#555555;transform:scaleX(0.9800);transform-origin:0 0;">2858</div>
<div class="t" style="left:347.32px;top:467.61px;font-size:9.16px;color:#555555;transform:scaleX(0.9800);transform-origin:0 0;">223</div>
<div class="t" style="left:402.37px;top:467.61px;font-size:9.16px;color:#555555;transform:scaleX(0.9800);transform-origin:0 0;">$6,012.45</div>
<div class="t" style="left:475.27px;top:467.61px;font-size:9.16px;color:#555555;transform:scaleX(0.9800);transform-origin:0 0;">$3,823.36</div>
<div class="t" style="left:212.20px;top:493.35px;font-size:9.16px;color:#555555;transform:scaleX(0.9800);transform-origin:0 0;">2021-07-12</div>
<div class="t" style="left:296.02px;top:493.35px;font-size:9.16px;color:#555555;transform:scaleX(0.9800);transform-origin:0 0;">2239</div>
<div class="t" style="left:347.32px;top:493.35px;font-size:9.16px;color:#555555;transform:scaleX(0.9800);transform-origin:0 0;">141</div>
<div class="t" style="left:402.37px;top:493.35px;font-size:9.16px;color:#555555;transform:scaleX(0.9800);transform-origin:0 0;">$2,436.53</div>
<div class="t" style="left:475.27px;top:493.35px;font-size:9.16px;color:#555555;transform:scaleX(0.9800);transform-origin:0 0;">$1,513.59</div>
<div class="t" style="left:212.20px;top:519.09px;font-size:9.16px;color:#555555;transform:scaleX(0.9800);transform-origin:0 0;">2021-07-11</div>
<div class="t" style="left:296.02px;top:519.09px;font-size:9.16px;color:#555555;transform:scaleX(0.9800);transform-origin:0 0;">1728</div>
<div class="t" style="left:349.81px;top:519.09px;font-size:9.16px;color:#555555;transform:scaleX(0.9800);transform-origin:0 0;">80</div>
<div class="t" style="left:403.04px;top:519.09px;font-size:9.16px;color:#555555;transform:scaleX(0.9800);transform-origin:0 0;">$1,118.00</div>
<div class="t" style="left:482.76px;top:519.09px;font-size:9.16px;color:#555555;transform:scaleX(0.9800);transform-origin:0 0;">$741.96</div>
<div class="t" style="left:212.20px;top:544.40px;font-size:7.56px;font-weight:bold;color:#222222;transform:scaleX(1.2231);transform-origin:0 0;">Total</div>
<div class="t" style="left:293.45px;top:544.40px;font-size:7.56px;font-weight:bold;color:#222222;transform:scaleX(1.2231);transform-origin:0 0;">14140</div>
<div class="t" style="left:347.09px;top:544.40px;font-size:7.56px;font-weight:bold;color:#222222;transform:scaleX(1.2231);transform-origin:0 0;">935</div>
<div class="t" style="left:396.03px;top:544.40px;font-size:7.56px;font-weight:bold;color:#222222;transform:scaleX(1.2231);transform-origin:0 0;">$24,319.17</div>
<div class="t" style="left:468.93px;top:544.40px;font-size:7.56px;font-weight:bold;color:#222222;transform:scaleX(1.2231);transform-origin:0 0;">$14,740.08</div>
<svg class="a" style="left:0;top:0" width="1024" height="576" viewBox="0 0 1024 576"><circle cx="511.1" cy="319" r="3.2" fill="#666"/><path d="M510.3 317.3L512.1 319L510.3 320.7" fill="none" stroke="#fff" stroke-width="0.9"/><rect x="279.3" y="330.5" width="1" height="204.9" fill="#e8eaed"/><rect x="279.3" y="535.4" width="1" height="24.1" fill="#c9c9c9"/><rect x="332.5" y="330.5" width="1" height="204.9" fill="#e8eaed"/><rect x="332.5" y="535.4" width="1" height="24.1" fill="#c9c9c9"/><rect x="376.1" y="330.5" width="1" height="204.9" fill="#e8eaed"/><rect x="376.1" y="535.4" width="1" height="24.1" fill="#c9c9c9"/><rect x="449.3" y="330.5" width="1" height="204.9" fill="#e8eaed"/><rect x="449.3" y="535.4" width="1" height="24.1" fill="#c9c9c9"/><line x1="482.8" y1="373.5" x2="515.2" y2="373.5" stroke="#666" stroke-width="0.9" stroke-dasharray="1.1 0.9"/><line x1="475.3" y1="399.2" x2="515.2" y2="399.2" stroke="#666" stroke-width="0.9" stroke-dasharray="1.1 0.9"/><line x1="475.3" y1="425.0" x2="515.2" y2="425.0" stroke="#666" stroke-width="0.9" stroke-dasharray="1.1 0.9"/><line x1="475.3" y1="450.7" x2="515.2" y2="450.7" stroke="#666" stroke-width="0.9" stroke-dasharray="1.1 0.9"/><line x1="475.3" y1="476.5" x2="515.2" y2="476.5" stroke="#666" stroke-width="0.9" stroke-dasharray="1.1 0.9"/><line x1="475.3" y1="502.2" x2="515.2" y2="502.2" stroke="#666" stroke-width="0.9" stroke-dasharray="1.1 0.9"/><line x1="482.8" y1="527.9" x2="515.2" y2="527.9" stroke="#666" stroke-width="0.9" stroke-dasharray="1.1 0.9"/></svg>
<div class="a" style="left:539.6px;top:307px;width:317.9px;height:252.5px;background:#fafafa;border:1px solid #e6e8eb"></div>
<div class="a" style="left:539.6px;top:307px;width:317.9px;height:23.5px;background:#eceef1;border-bottom:1px solid #dfe3e8"></div>
<div class="t" style="left:544.40px;top:314.91px;font-size:10.03px;color:#555555;transform:scaleX(1.0298);transform-origin:0 0;">Affiliate Daily Stats</div>
<div class="a" style="left:819.6px;top:311.7px;width:32.8px;height:14.6px;background:transparent;border:1px solid #a3a8ad;border-radius:2.5px"></div>
<div class="t" style="left:823.30px;top:316.45px;font-size:7.27px;color:#777777;transform:scaleX(0.9848);transform-origin:0 0;">More</div>
<div class="a" style="left:540.6px;top:355.3px;width:315.9px;height:25.69999999999999px;background:#fcfcfc;border-top:1px solid #e8eaed"></div>
<div class="a" style="left:540.6px;top:381.0px;width:315.9px;height:25.5px;background:#f4f4f4;border-top:1px solid #e8eaed"></div>
<div class="a" style="left:540.6px;top:406.5px;width:315.9px;height:25.69999999999999px;background:#fcfcfc;border-top:1px solid #e8eaed"></div>
<div class="a" style="left:540.6px;top:432.2px;width:315.9px;height:26.0px;background:#f4f4f4;border-top:1px solid #e8eaed"></div>
<div class="a" style="left:540.6px;top:458.2px;width:315.9px;height:26.0px;background:#fcfcfc;border-top:1px solid #e8eaed"></div>
<div class="a" style="left:540.6px;top:484.2px;width:315.9px;height:25.5px;background:#f4f4f4;border-top:1px solid #e8eaed"></div>
<div class="a" style="left:540.6px;top:509.7px;width:315.9px;height:25.69999999999999px;background:#fcfcfc;border-top:1px solid #e8eaed"></div>
<div class="a" style="left:540.6px;top:330.5px;width:315.9px;height:24.8px;background:#f5f5f5"></div>
<div class="a" style="left:539.6px;top:535.4px;width:317.9px;height:24.100000000000023px;background:#bbbbbb"></div>
<div class="t" style="left:546.60px;top:340.35px;font-size:7.27px;font-weight:bold;color:#444444;transform:scaleX(1.1536);transform-origin:0 0;">Date</div>
<div class="t" style="left:639.02px;top:340.35px;font-size:7.27px;font-weight:bold;color:#444444;transform:scaleX(1.1536);transform-origin:0 0;">Hops</div>
<div class="t" style="left:687.55px;top:340.35px;font-size:7.27px;font-weight:bold;color:#444444;transform:scaleX(1.1536);transform-origin:0 0;">Sales</div>
<div class="t" style="left:749.72px;top:340.35px;font-size:7.27px;font-weight:bold;color:#444444;transform:scaleX(1.1536);transform-origin:0 0;">Earnings</div>
<div class="t" style="left:819.84px;top:340.35px;font-size:7.27px;font-weight:bold;color:#444444;transform:scaleX(1.1536);transform-origin:0 0;">Other</div>
<div class="t" style="left:546.60px;top:364.65px;font-size:9.16px;color:#555555;transform:scaleX(0.9800);transform-origin:0 0;">2021-07-17</div>
<div class="t" style="left:644.51px;top:364.65px;font-size:9.16px;color:#555555;transform:scaleX(0.9800);transform-origin:0 0;">84</div>
<div class="t" style="left:696.01px;top:364.65px;font-size:9.16px;color:#555555;transform:scaleX(0.9800);transform-origin:0 0;">9</div>
<div class="t" style="left:758.16px;top:364.65px;font-size:9.16px;color:#555555;transform:scaleX(0.9800);transform-origin:0 0;">$95.22</div>
<div class="t" style="left:827.24px;top:364.65px;font-size:9.16px;color:#555555;transform:scaleX(0.9800);transform-origin:0 0;">$0.00</div>
<div class="t" style="left:546.60px;top:390.39px;font-size:9.16px;color:#555555;transform:scaleX(0.9800);transform-origin:0 0;">2021-07-16</div>
<div class="t" style="left:642.02px;top:390.39px;font-size:9.16px;color:#555555;transform:scaleX(0.9800);transform-origin:0 0;">169</div>
<div class="t" style="left:696.01px;top:390.39px;font-size:9.16px;color:#555555;transform:scaleX(0.9800);transform-origin:0 0;">8</div>
<div class="t" style="left:758.16px;top:390.39px;font-size:9.16px;font-weight:bold;color:#333333;transform:scaleX(0.9800);transform-origin:0 0;">$69.94</div>
<div class="t" style="left:827.24px;top:390.39px;font-size:9.16px;color:#555555;transform:scaleX(0.9800);transform-origin:0 0;">$0.00</div>
<div class="t" style="left:546.60px;top:416.13px;font-size:9.16px;color:#555555;transform:scaleX(0.9800);transform-origin:0 0;">2021-07-15</div>
<div class="t" style="left:642.02px;top:416.13px;font-size:9.16px;color:#555555;transform:scaleX(0.9800);transform-origin:0 0;">149</div>
<div class="t" style="left:693.51px;top:416.13px;font-size:9.16px;color:#555555;transform:scaleX(0.9800);transform-origin:0 0;">15</div>
<div class="t" style="left:753.16px;top:416.13px;font-size:9.16px;color:#555555;transform:scaleX(0.9800);transform-origin:0 0;">$172.60</div>
<div class="t" style="left:827.24px;top:416.13px;font-size:9.16px;color:#555555;transform:scaleX(0.9800);transform-origin:0 0;">$0.00</div>
<div class="t" style="left:546.60px;top:441.87px;font-size:9.16px;color:#555555;transform:scaleX(0.9800);transform-origin:0 0;">2021-07-14</div>
<div class="t" style="left:642.02px;top:441.87px;font-size:9.16px;color:#555555;transform:scaleX(0.9800);transform-origin:0 0;">208</div>
<div class="t" style="left:693.51px;top:441.87px;font-size:9.16px;color:#555555;transform:scaleX(0.9800);transform-origin:0 0;">13</div>
<div class="t" style="left:758.16px;top:441.87px;font-size:9.16px;color:#555555;transform:scaleX(0.9800);transform-origin:0 0;">$83.84</div>
<div class="t" style="left:827.24px;top:441.87px;font-size:9.16px;color:#555555;transform:scaleX(0.9800);transform-origin:0 0;">$0.00</div>
<div class="t" style="left:546.60px;top:467.61px;font-size:9.16px;color:#555555;transform:scaleX(0.9800);transform-origin:0 0;">2021-07-13</div>
<div class="t" style="left:644.51px;top:467.61px;font-size:9.16px;color:#555555;transform:scaleX(0.9800);transform-origin:0 0;">91</div>
<div class="t" style="left:696.01px;top:467.61px;font-size:9.16px;color:#555555;transform:scaleX(0.9800);transform-origin:0 0;">7</div>
<div class="t" style="left:758.16px;top:467.61px;font-size:9.16px;color:#555555;transform:scaleX(0.9800);transform-origin:0 0;">$56.81</div>
<div class="t" style="left:827.24px;top:467.61px;font-size:9.16px;color:#555555;transform:scaleX(0.9800);transform-origin:0 0;">$0.00</div>
<div class="t" style="left:546.60px;top:493.35px;font-size:9.16px;color:#555555;transform:scaleX(0.9800);transform-origin:0 0;">2021-07-12</div>
<div class="t" style="left:644.51px;top:493.35px;font-size:9.16px;color:#555555;transform:scaleX(0.9800);transform-origin:0 0;">57</div>
<div class="t" style="left:696.01px;top:493.35px;font-size:9.16px;color:#555555;transform:scaleX(0.9800);transform-origin:0 0;">0</div>
<div class="t" style="left:763.14px;top:493.35px;font-size:9.16px;color:#555555;transform:scaleX(0.9800);transform-origin:0 0;">$0.00</div>
<div class="t" style="left:827.24px;top:493.35px;font-size:9.16px;color:#555555;transform:scaleX(0.9800);transform-origin:0 0;">$0.00</div>
<div class="t" style="left:546.60px;top:519.09px;font-size:9.16px;color:#555555;transform:scaleX(0.9800);transform-origin:0 0;">2021-07-11</div>
<div class="t" style="left:644.51px;top:519.09px;font-size:9.16px;color:#555555;transform:scaleX(0.9800);transform-origin:0 0;">33</div>
<div class="t" style="left:696.01px;top:519.09px;font-size:9.16px;color:#555555;transform:scaleX(0.9800);transform-origin:0 0;">1</div>
<div class="t" style="left:763.14px;top:519.09px;font-size:9.16px;color:#555555;transform:scaleX(0.9800);transform-origin:0 0;">$8.05</div>
<div class="t" style="left:827.24px;top:519.09px;font-size:9.16px;color:#555555;transform:scaleX(0.9800);transform-origin:0 0;">$0.00</div>
<div class="t" style="left:546.60px;top:544.40px;font-size:7.56px;font-weight:bold;color:#222222;transform:scaleX(1.2231);transform-origin:0 0;">Total</div>
<div class="t" style="left:641.79px;top:544.40px;font-size:7.56px;font-weight:bold;color:#222222;transform:scaleX(1.2231);transform-origin:0 0;">791</div>
<div class="t" style="left:693.36px;top:544.40px;font-size:7.56px;font-weight:bold;color:#222222;transform:scaleX(1.2231);transform-origin:0 0;">53</div>
<div class="t" style="left:752.18px;top:544.40px;font-size:7.56px;font-weight:bold;color:#222222;transform:scaleX(1.2231);transform-origin:0 0;">$486.46</div>
<div class="t" style="left:826.57px;top:544.40px;font-size:7.56px;font-weight:bold;color:#222222;transform:scaleX(1.2231);transform-origin:0 0;">$0.00</div>
<svg class="a" style="left:0;top:0" width="1024" height="576" viewBox="0 0 1024 576"><circle cx="845.6" cy="319" r="3.2" fill="#666"/><path d="M844.8 317.3L846.6 319L844.8 320.7" fill="none" stroke="#fff" stroke-width="0.9"/><rect x="625.1" y="330.5" width="1" height="204.9" fill="#e8eaed"/><rect x="625.1" y="535.4" width="1" height="24.1" fill="#c9c9c9"/><rect x="672.9" y="330.5" width="1" height="204.9" fill="#e8eaed"/><rect x="672.9" y="535.4" width="1" height="24.1" fill="#c9c9c9"/><rect x="722.7" y="330.5" width="1" height="204.9" fill="#e8eaed"/><rect x="722.7" y="535.4" width="1" height="24.1" fill="#c9c9c9"/><rect x="792.8" y="330.5" width="1" height="204.9" fill="#e8eaed"/><rect x="792.8" y="535.4" width="1" height="24.1" fill="#c9c9c9"/><line x1="758.2" y1="399.2" x2="785.6" y2="399.2" stroke="#666" stroke-width="0.9" stroke-dasharray="1.1 0.9"/></svg>
<svg class="a" style="left:0;top:0" width="1024" height="576" viewBox="0 0 1024 576"><circle cx="846.8" cy="343.3" r="2.9" fill="#777"/><text x="845.3" y="345.3" font-size="4.5" font-weight="bold" fill="#fff" font-family="Liberation Sans">?</text></svg>
<div class="a" style="left:205px;top:572.8px;width:317.6px;height:4px;background:#eceef1;border:1px solid #e6e8eb"></div>
<div class="a" style="left:539.6px;top:572.8px;width:317.9px;height:4px;background:#eceef1;border:1px solid #e6e8eb"></div>
<svg class="a" style="left:0;top:0" width="1024" height="576" viewBox="0 0 1024 576"><circle cx="17.3" cy="562.8" r="8.6" fill="#ef9a9a"/><circle cx="17.3" cy="562.8" r="8.1" fill="none" stroke="#f6c6c6" stroke-width="0.8"/><path d="M13.6 566.2Q14.4 565.2 14.8 564.2L15.1 561Q15.5 558.3 17.3 558.3Q19.1 558.3 19.5 561L19.8 564.2Q20.2 565.2 21 566.2Z" fill="#fff"/><circle cx="17.3" cy="567.2" r="1" fill="#fff"/></svg>
</body></html>
